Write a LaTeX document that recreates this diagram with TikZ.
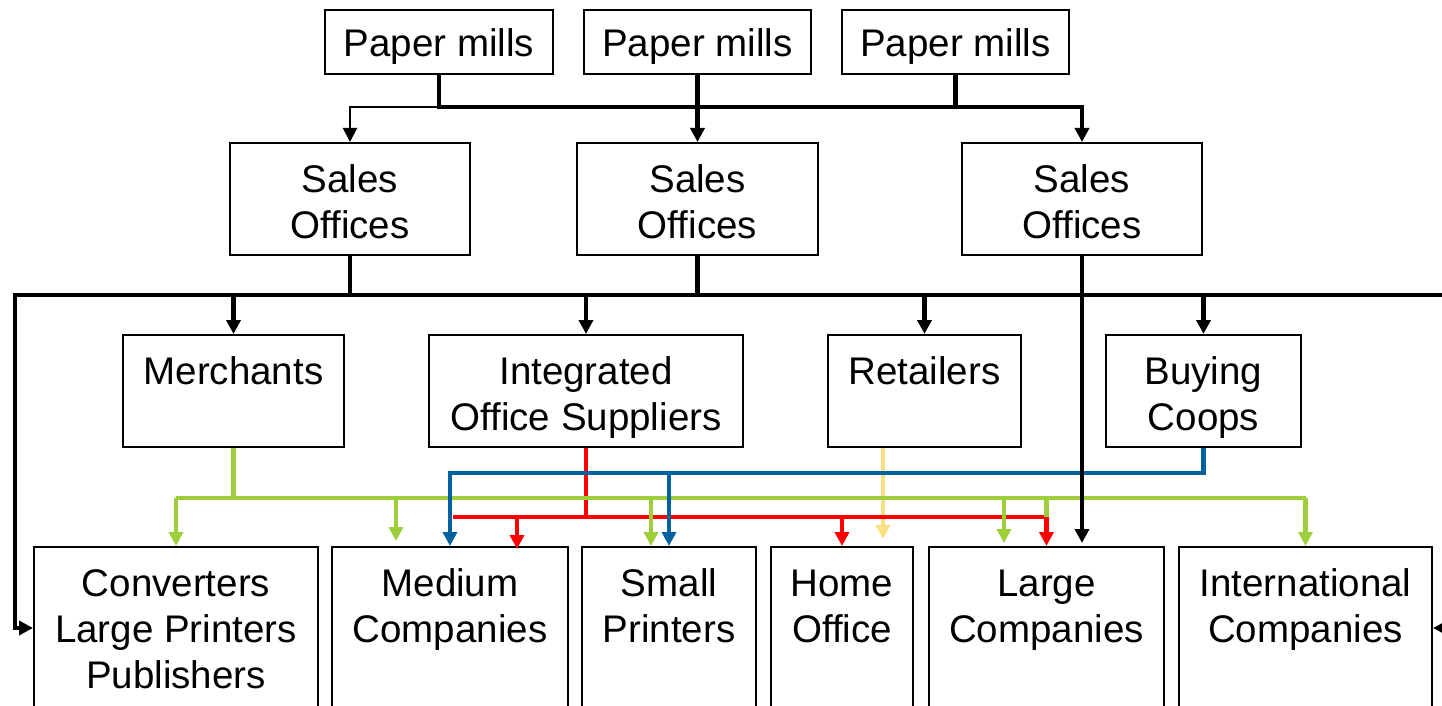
\documentclass[tikz,border=0pt]{standalone}
\usepackage{fontspec}
\setmainfont{Liberation Sans}
\usetikzlibrary{arrows.meta}
\definecolor{lgreen}{RGB}{158,206,58}
\definecolor{dblue}{RGB}{0,98,160}
\definecolor{lyellow}{RGB}{250,224,128}
\begin{document}
\begin{tikzpicture}[x=1pt,y=-1pt,
  box/.style={draw=black, line width=2pt, inner sep=0pt, minimum width=#1pt},
  lbl/.style={font=\fontsize{38.5}{46}\selectfont, align=center, inner sep=0pt, anchor=north},
  tip/.style={-{Triangle[width=14pt,length=14pt]}},
  blk/.style={draw=black, line width=4.7pt},
  thinline/.style={draw=black, line width=2pt},
  gline/.style={draw=lgreen, line width=4.5pt},
  rline/.style={draw=red, line width=4.5pt},
  bline/.style={draw=dblue, line width=4.5pt},
  yline/.style={draw=lyellow, line width=4.5pt}]
\useasboundingbox (0,0) rectangle (1442,706);
\clip (0,0) rectangle (1442,706);

% ---- boxes ----
\node[box=228, minimum height=64pt] (pm1) at (439,42) {};
\node[box=227, minimum height=64pt] (pm2) at (697.5,42) {};
\node[box=227, minimum height=64pt] (pm3) at (955.5,42) {};

\node[box=240, minimum height=112pt] (s1) at (350,199) {};
\node[box=241, minimum height=112pt] (s2) at (697.5,199) {};
\node[box=240, minimum height=112pt] (s3) at (1082,199) {};

\node[box=221, minimum height=112pt] (mer) at (233.5,391) {};
\node[box=314, minimum height=112pt] (ios) at (586,391) {};
\node[box=193, minimum height=112pt] (ret) at (924.5,391) {};
\node[box=195, minimum height=112pt] (buy) at (1203.5,391) {};

\node[box=284, minimum height=162pt] (conv) at (176,628) {};
\node[box=236, minimum height=162pt] (med) at (450,628) {};
\node[box=174, minimum height=162pt] (small) at (669,628) {};
\node[box=142, minimum height=162pt] (home) at (842,628) {};
\node[box=235, minimum height=162pt] (lc) at (1046.5,628) {};
\node[box=253, minimum height=162pt] (intl) at (1305.5,628) {};

% ---- labels ----
\node[lbl] (pm1t) at (439,24.6) {\strut Paper mills};
\node[lbl] (pm2t) at (697.5,24.6) {\strut Paper mills};
\node[lbl] (pm3t) at (955.5,24.6) {\strut Paper mills};

\node[lbl] (s1t) at (350,159.6) {\strut Sales\\\strut Offices};
\node[lbl] (s2t) at (697.5,159.6) {\strut Sales\\\strut Offices};
\node[lbl] (s3t) at (1082,159.6) {\strut Sales\\\strut Offices};

\node[lbl] (mert) at (233.5,351.6) {\strut Merchants};
\node[lbl] (iost) at (586,351.6) {\strut Integrated\\\strut Office Suppliers};
\node[lbl] (rett) at (924.5,351.6) {\strut Retailers};
\node[lbl] (buyt) at (1203.5,351.6) {\strut Buying\\\strut Coops};

\node[lbl] (convt) at (176,563.6) {\strut Converters\\\strut Large Printers\\\strut Publishers};
\node[lbl] (medt) at (450,563.6) {\strut Medium\\\strut Companies};
\node[lbl] (smallt) at (669,563.6) {\strut Small\\\strut Printers};
\node[lbl] (homet) at (842,563.6) {\strut Home\\\strut Office};
\node[lbl] (lct) at (1046.5,563.6) {\strut Large\\\strut Companies};
\node[lbl] (intlt) at (1305.5,563.6) {\strut International\\\strut Companies};

% ---- levels and free ends ----
\coordinate (lv1) at (0,107);
\coordinate (lv2) at (0,295);
\coordinate (busL) at (15,295);
\coordinate (busR) at (1470,295);
\coordinate (rin) at (1470,628);
\coordinate (by) at (0,473);
\coordinate (gy) at (0,498);
\coordinate (ry) at (0,517);
\coordinate (rl) at (453,517);
\coordinate (r1) at (517,517);
\coordinate (g1) at (396,498);
\coordinate (g2) at (651,498);
\coordinate (g3) at (1004,498);
\coordinate (yx) at (883,0);

% ---- paper mills to sales offices ----
\draw[blk] (pm3.south) -- (pm3.south |- lv1);
\draw[blk, tip] (pm1.south) |- (s3.north |- lv1) -- (s3.north);
\draw[blk, tip] (pm2.south) -- (s2.north);
\draw[thinline, tip] (pm1.south |- lv1) -| (s1.north);

% ---- sales offices to channels ----
\draw[blk] (s1.south) -- (s1.south |- lv2);
\draw[blk] (s2.south) -- (s2.south |- lv2);
\draw[blk, tip] (busR) -- (busL) |- (conv.west);
\draw[blk, tip] (mer.north |- lv2) -- (mer.north);
\draw[blk, tip] (ios.north |- lv2) -- (ios.north);
\draw[blk, tip] (ret.north |- lv2) -- (ret.north);
\draw[blk, tip] (buy.north |- lv2) -- (buy.north);
\draw[blk, tip] (rin) -- (intl.east);

% ---- retailers ----
\draw[yline, tip, shorten >=7pt] (ret.south -| yx) -- (yx |- home.north);

% ---- integrated office suppliers ----
\draw[rline] (ios.south) -- (ios.south |- ry);
\draw[rline] (rl) -- (lc.north |- ry);
\draw[rline, tip, shorten >=-3pt] (r1) -- (r1 |- med.north);
\draw[rline, tip] (home.north |- ry) -- (home.north);
\draw[rline, tip] (lc.north |- ry) -- (lc.north);

% ---- merchants ----
\draw[gline] (mer.south) -- (mer.south |- gy);
\draw[gline] (conv.north |- gy) -- (intl.north |- gy);
\draw[gline, tip] (conv.north |- gy) -- (conv.north);
\draw[gline, tip, shorten >=5pt] (g1) -- (g1 |- med.north);
\draw[gline, tip] (g2) -- (g2 |- small.north);
\draw[gline, tip, shorten >=3pt] (g3) -- (g3 |- lc.north);
\draw[gline] (lc.north |- gy) -- (lc.north |- ry);
\draw[gline, tip] (intl.north |- gy) -- (intl.north);

% ---- buying coops ----
\draw[bline, tip] (buy.south) |- (med.north |- by) -- (med.north);
\draw[bline, tip] (small.north |- by) -- (small.north);

% ---- direct sales to large companies ----
\draw[blk, tip, shorten >=3pt] (s3.south) -- (s3.south |- lc.north);
\end{tikzpicture}
\end{document}
